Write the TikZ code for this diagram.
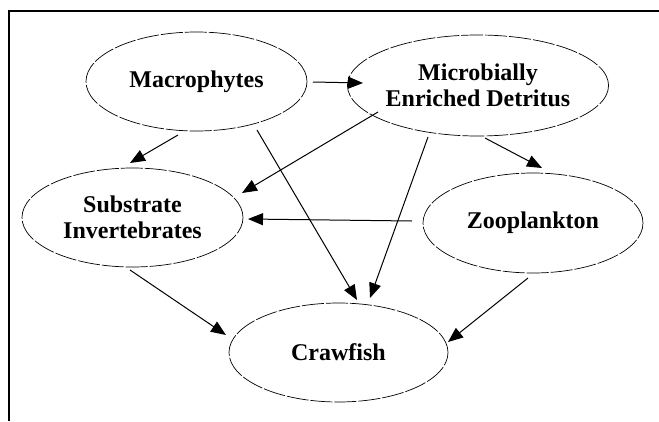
\documentclass[tikz,border=0pt]{standalone}
\usepackage{fontspec}
\setmainfont{Liberation Serif}
\usetikzlibrary{arrows.meta,shapes.geometric,calc}
\begin{document}
\begin{tikzpicture}[x=1pt,y=-1pt,
  bubble/.style={ellipse,draw,line width=0.7pt,dash pattern=on 22pt off 2pt,
    inner sep=0pt,outer sep=0pt,align=center,
    font=\fontsize{24}{26}\selectfont\bfseries},
  arr/.style={-{Triangle[length=15pt,width=12pt]},line width=1pt},
  frameline/.style={line width=2pt,line join=miter}]
\useasboundingbox (0,0) rectangle (659,421);
\fill[white] (0,0) rectangle (659,421);
\coordinate (fbl) at (9,421);
\coordinate (ftl) at (9,11);
\coordinate (ftr) at (659,11);
\draw[frameline] (fbl) -- (ftl) -- (ftr);

\node[bubble,minimum width=221pt,minimum height=99pt] (mac) at (196.5,81.5) {Macrophytes};
\node[bubble,minimum width=220pt,minimum height=101pt] (mic) at (478,85.5) {Microbially\\Enriched Detritus};
\node[bubble,minimum width=221pt,minimum height=99pt] (sub) at (132.5,217.5) {Substrate\\Invertebrates};
\node[bubble,minimum width=220pt,minimum height=100pt] (zoo) at (533,223) {Zooplankton};
\node[bubble,minimum width=219pt,minimum height=99pt] (cra) at (338.5,352.5) {Crawfish};

\draw[arr] ($(mac.center)+(116.5,0.5)$) -- ($(mic.center)+(-115,-2.5)$);
\draw[arr] ($(mac.center)+(-18.5,53.5)$) -- ($(sub.center)+(-2.5,-54.5)$);
\draw[arr] ($(mic.center)+(-100,26.5)$) -- ($(sub.center)+(109.5,-24.5)$);
\draw[arr] ($(mac.center)+(60.5,48.5)$) -- ($(cra.center)+(18.5,-52.5)$);
\draw[arr] ($(mic.center)+(-50,51.5)$) -- ($(cra.center)+(31.5,-54.5)$);
\draw[arr] ($(mic.center)+(7,52.5)$) -- ($(zoo.center)+(9,-55)$);
\draw[arr] ($(zoo.center)+(-121,-2)$) -- ($(sub.center)+(115.5,1.5)$);
\draw[arr] ($(sub.center)+(-2.5,52.5)$) -- ($(cra.center)+(-112.5,-17.5)$);
\draw[arr] ($(zoo.center)+(-5,55)$) -- ($(cra.center)+(109.5,-10.5)$);
\end{tikzpicture}
\end{document}
